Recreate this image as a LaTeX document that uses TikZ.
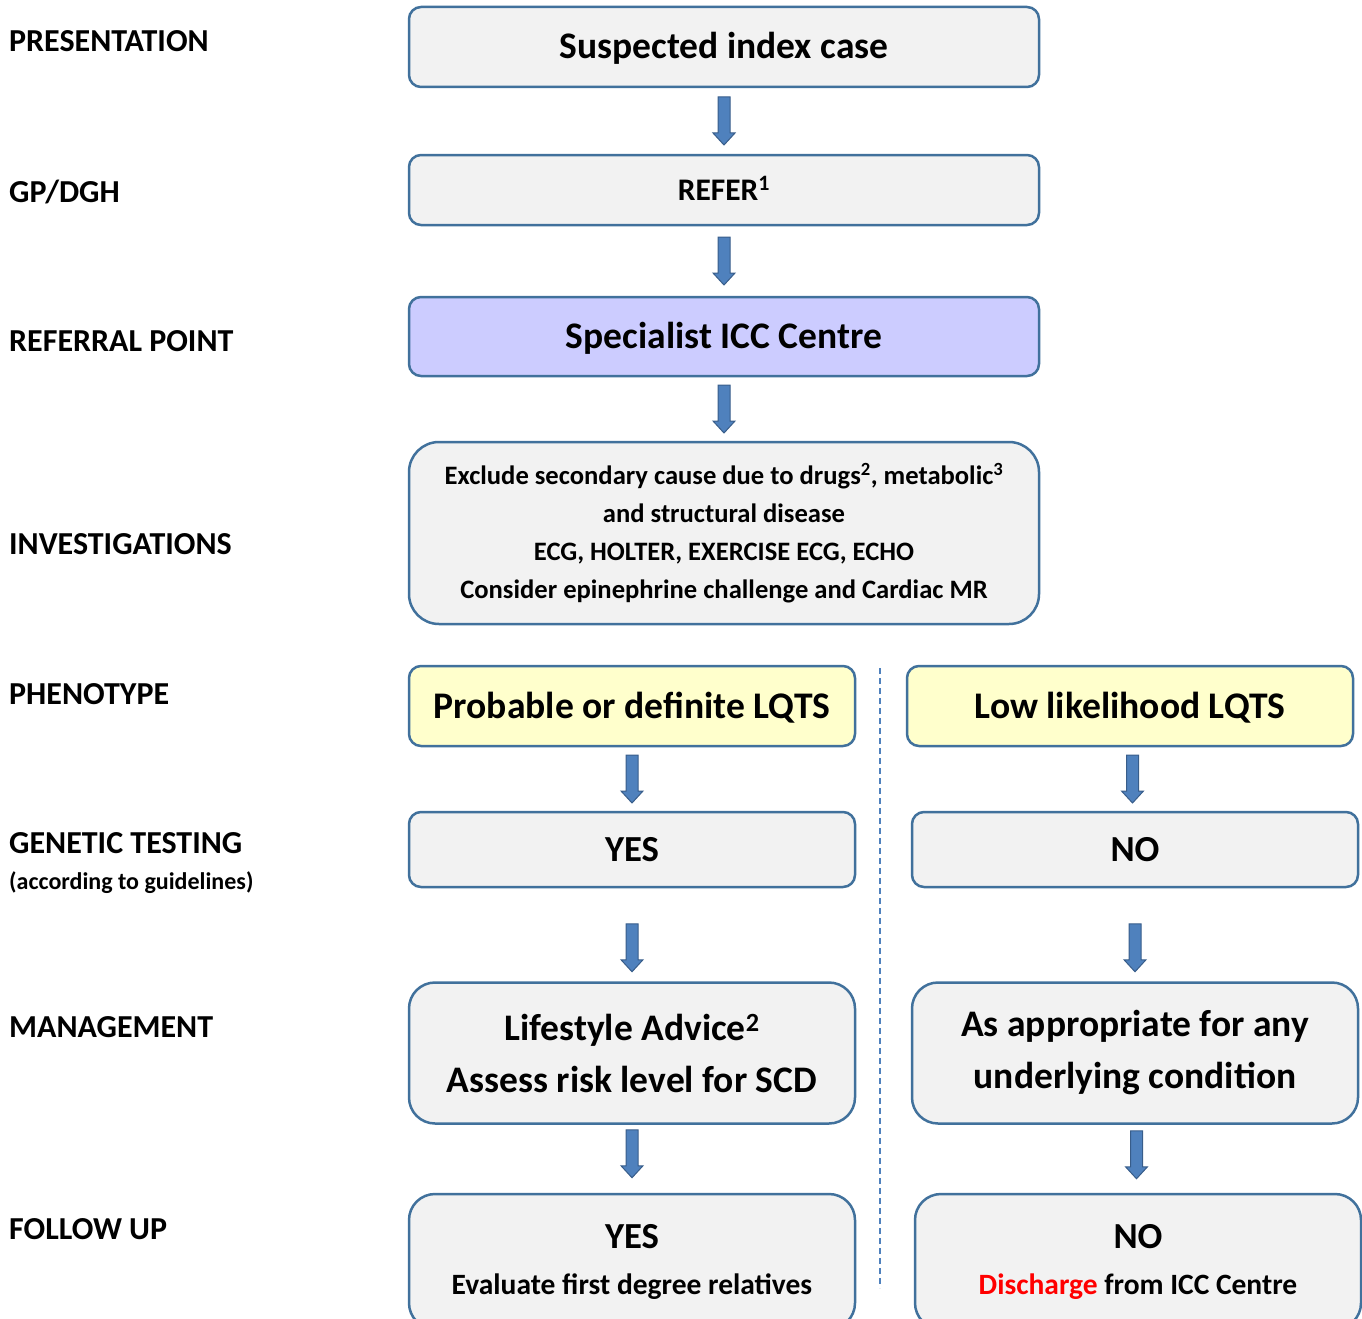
\documentclass[tikz,border=0pt]{standalone}
\usepackage{fontspec}
\setmainfont{Carlito}
\usetikzlibrary{calc}

\definecolor{boxline}{HTML}{41719C}
\definecolor{boxfill}{HTML}{F2F2F2}
\definecolor{arrowfill}{HTML}{4F81BD}
\definecolor{arrowline}{HTML}{385D8A}
\definecolor{iccfill}{HTML}{CCCCFF}
\definecolor{phenofill}{HTML}{FFFFCC}
\definecolor{discharge}{HTML}{FF0000}

\newcommand{\fsz}[2]{\fontsize{#1}{#2}\selectfont}

\tikzset{
  stage/.style={anchor=base west, inner sep=0pt, font=\bfseries\fsz{32}{38}},
  flowbox/.style={draw=boxline, fill=boxfill, line width=2.5pt, rounded corners=12pt,
    align=center, inner sep=0pt, font=\bfseries},
  onerow/.style={text height=#1, text depth=0pt},
  bigbox/.style={flowbox, rounded corners=26pt},
  blockarrow/.style={fill=arrowfill, draw=arrowline, line width=1pt, line join=miter}
}

% down arrow between two boxes, #1 = extra shift
\newcommand{\blockarrow}[3][0]{%
  \coordinate (mid) at ($(#2.south)!0.5!(#3.north)+(0,#1)$);
  \filldraw[blockarrow] ($(mid)+(-6,-24)$) -- ($(mid)+(6,-24)$) -- ($(mid)+(6,12)$)
    -- ($(mid)+(11,12)$) -- ($(mid)+(0,24)$) -- ($(mid)+(-11,12)$) -- ($(mid)+(-6,12)$) -- cycle;}

\begin{document}
\begin{tikzpicture}[x=1pt, y=-1pt]
  \useasboundingbox (0,0) rectangle (1362,1319);

  % stages on the left
  \node [stage] (pres) at (9,52) {PRESENTATION};
  \node [stage] (gp) at (9,202) {GP/DGH};
  \node [stage] (ref) at (9,351) {REFERRAL POINT};
  \node [stage] (inv) at (9,554) {INVESTIGATIONS};
  \node [stage] (phen) at (9,704) {PHENOTYPE};
  \node [stage] (gen) at (9,853) {GENETIC TESTING};
  \node [stage, font=\bfseries\fsz{24}{28}] (guide) at (9,889) {(according to guidelines)};
  \node [stage] (man) at (9,1037) {MANAGEMENT};
  \node [stage] (fol) at (9,1239) {FOLLOW UP};

  % central column
  \node [flowbox, onerow=24pt, minimum width=630, minimum height=80, font=\bfseries\fsz{37.5}{44}]
    (index) at (724,47) {Suspected index case};
  \node [flowbox, onerow=20pt, minimum width=630, minimum height=70, font=\bfseries\fsz{31.4}{36}]
    (refer) at (724,190) {REFER\textsuperscript{1}};
  \node [flowbox, onerow=24pt, fill=iccfill, minimum width=630, minimum height=79, font=\bfseries\fsz{37.5}{44}]
    (icc) at (724,336.5) {Specialist ICC Centre};
  \node [bigbox, rounded corners=30pt, minimum width=630, minimum height=182, font=\bfseries\fsz{26.6}{38}]
    (exclude) at (724,533) {Exclude secondary cause due to drugs\textsuperscript{2}, metabolic\textsuperscript{3}\\
    and structural disease\\ ECG, HOLTER, EXERCISE ECG, ECHO\\
    Consider epinephrine challenge and Cardiac MR};

  % two branches
  \node [flowbox, onerow=24pt, fill=phenofill, minimum width=446, minimum height=80, font=\bfseries\fsz{37.6}{44}]
    (prob) at (632,706) {Probable or definite LQTS};
  \node [flowbox, onerow=24pt, fill=phenofill, minimum width=446, minimum height=80, font=\bfseries\fsz{37.6}{44}]
    (low) at (1130,706) {Low likelihood LQTS};
  \node [flowbox, onerow=23.5pt, minimum width=446, minimum height=75, font=\bfseries\fsz{36.7}{42}]
    (yes) at (632,849.5) {YES};
  \node [flowbox, onerow=23.5pt, minimum width=446, minimum height=75, font=\bfseries\fsz{36.7}{42}]
    (no) at (1135,849.5) {NO};
  \node [bigbox, minimum width=446, minimum height=141, font=\bfseries\fsz{37.5}{52}]
    (life) at (632,1053) {Lifestyle Advice\textsuperscript{2}\\ Assess risk level for SCD};
  \node [bigbox, minimum width=446, minimum height=141, font=\bfseries\fsz{37.5}{52}]
    (approp) at (1135,1053) {As appropriate for any\\ underlying condition};
  \node [bigbox, minimum width=446, minimum height=135, font=\bfseries\fsz{29.5}{46}]
    (relatives) at (632,1261.5) {{\fsz{36.7}{42}YES}\\ Evaluate first degree relatives};
  \node [bigbox, minimum width=446, minimum height=135, font=\bfseries\fsz{29.5}{46}]
    (disch) at (1138,1261.5) {{\fsz{36.7}{42}NO}\\ \textcolor{discharge}{Discharge} from ICC Centre};

  \draw [arrowfill, line width=2pt, dash pattern=on 6pt off 4pt] (880,668) -- (880,1288);

  \blockarrow{index}{refer}
  \blockarrow{refer}{icc}
  \blockarrow{icc}{exclude}
  \blockarrow{prob}{yes}
  \blockarrow{low}{no}
  \blockarrow[13]{yes}{life}
  \blockarrow[13]{no}{approp}
  \blockarrow[-5]{life}{relatives}
  \blockarrow[-4]{approp}{disch}
\end{tikzpicture}
\end{document}
